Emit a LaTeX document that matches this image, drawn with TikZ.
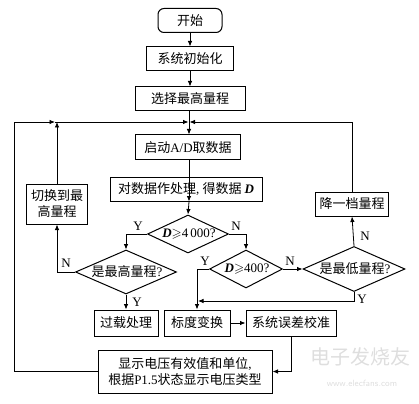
\documentclass[tikz,border=0pt]{standalone}
\usepackage{fontspec}
\usepackage{amssymb}
\setmainfont{Liberation Serif}
\newfontfamily\cjk{Noto Sans CJK SC}
\usetikzlibrary{shapes.geometric,arrows.meta}
\begin{document}
\begin{tikzpicture}[x=1pt,y=-1pt,
  every node/.style={font=\cjk\fontsize{13}{16}\selectfont},
  box/.style={draw,line width=1pt,inner sep=0pt,minimum height=24pt},
  dia/.style={draw,diamond,line width=1pt,inner sep=0pt},
  lbl/.style={inner sep=0pt,font=\fontsize{13}{15}\selectfont},
  flow/.style={line width=0.8pt,-{Latex[length=5.5pt,width=4.5pt]}},
  line/.style={line width=0.8pt}]
\useasboundingbox (0,0) rectangle (419,403);
% boxes
\node[box,rounded corners=6pt,minimum width=64pt] (start) at (190,20.5) {开始};
\node[box,minimum width=87pt] (init) at (190,59) {系统初始化};
\node[box,minimum width=110pt] (sel) at (190,99) {选择最高量程};
\coordinate (merge) at (189,122);
\node[box,minimum width=105pt,minimum height=25pt] (ad) at (188,147.5) {启动{\rmfamily A/D}取数据};
\node[box,minimum width=152pt] (proc) at (186,189) {对数据作处理{\rmfamily, }得数据 {\rmfamily\bfseries\itshape D}};
\node[dia,minimum width=81pt,minimum height=38pt] (d1) at (188,234) {};
\node[inner sep=0pt] (d1t) at (189,234) {\rmfamily{\bfseries\itshape D}$\geqslant$4\,000?};
\node[dia,minimum width=101pt,minimum height=44pt] (d2) at (126,272) {};
\node[inner sep=0pt] (d2t) at (127,272) {是最高量程{\rmfamily ?}};
\node[box,minimum width=61pt,minimum height=40pt,align=center] (sw) at (57,204) {切换到最\\高量程};
\node[box,minimum width=64pt,minimum height=26pt] (ovl) at (126,323) {过载处理};
\node[dia,minimum width=73pt,minimum height=38pt] (d3) at (246,269) {};
\node[inner sep=0pt] (d3t) at (247,269) {\rmfamily{\bfseries\itshape D}$\geqslant$400?};
\node[dia,minimum width=102pt,minimum height=45pt] (d4) at (354,269) {};
\node[inner sep=0pt] (d4t) at (355,269) {是最低量程{\rmfamily ?}};
\node[box,minimum width=73pt] (dn) at (352,204) {降一档量程};
\node[box,minimum width=66pt,minimum height=26pt] (sc) at (197,323) {标度变换};
\node[box,minimum width=90pt,minimum height=26pt] (cal) at (291,323) {系统误差校准};
\node[box,minimum width=174pt,minimum height=43pt,align=center] (disp) at (185,371.5)
  {显示电压有效值和单位{\rmfamily ,}\\根据{\rmfamily P1.5}状态显示电压类型};
% labels
\node[lbl] (y1) at (138,226) {Y};
\node[lbl] (n1) at (236,226) {N};
\node[lbl] (n2) at (66,263) {N};
\node[lbl] (y2) at (137,302) {Y};
\node[lbl] (y3) at (205,261) {Y};
\node[lbl] (n3) at (290,261) {N};
\node[lbl] (n4) at (365,236) {N};
\node[lbl] (y4) at (362,299) {Y};
% connectors
\draw[flow] (start) -- (init);
\draw[flow] (init) -- (sel);
\draw[flow] (sel.south -| merge) -- (ad.north -| merge);
\draw[flow] (ad.south -| merge) -- (proc.south -| merge);
\draw[flow] (proc.south -| merge) -- (d1.north);
\coordinate (lmid) at (55,122);
\coordinate (lc) at (14,371.5);
\draw[flow] (disp.west) -- (lc) -- (14,122) -- (lmid);
\draw[flow] (lmid) -- ([xshift=-0.5pt]merge);
\draw[flow] (sw.north) -- (sw.north |- merge);
\draw[flow] (dn.north) -- (dn.north |- merge) -- ([xshift=0.5pt]merge);
\draw[flow] (d1.west) -| (d2.north);
\draw[flow] (d1.east) -| (d3.north);
\draw[flow] (d2.west) -| (sw.south);
\draw[flow] (d2.south) -- (ovl.north);
\coordinate (jn) at (197,301);
\draw[line] (d3.west) -| (jn);
\draw[flow] (jn) -- (sc.north);
\draw[flow] (d3.east) -- (d4.west);
\draw[flow] (d4.north) -- (dn.south);
\draw[flow] (d4.south) -- (d4.south |- jn) -- ([xshift=1pt]jn);
\draw[flow] (sc.east) -- (cal.west);
\draw[flow] (cal.south) |- (disp.east);
% watermark
\node[text=black!13,font=\cjk\fontsize{20}{22}\selectfont,inner sep=0pt] (wm1) at (360,357) {电子发烧友};
\node[text=black!13,font=\sffamily\fontsize{9}{10}\selectfont,inner sep=0pt] (wm2) at (362,383) {www.elecfans.com};
\end{tikzpicture}
\end{document}
